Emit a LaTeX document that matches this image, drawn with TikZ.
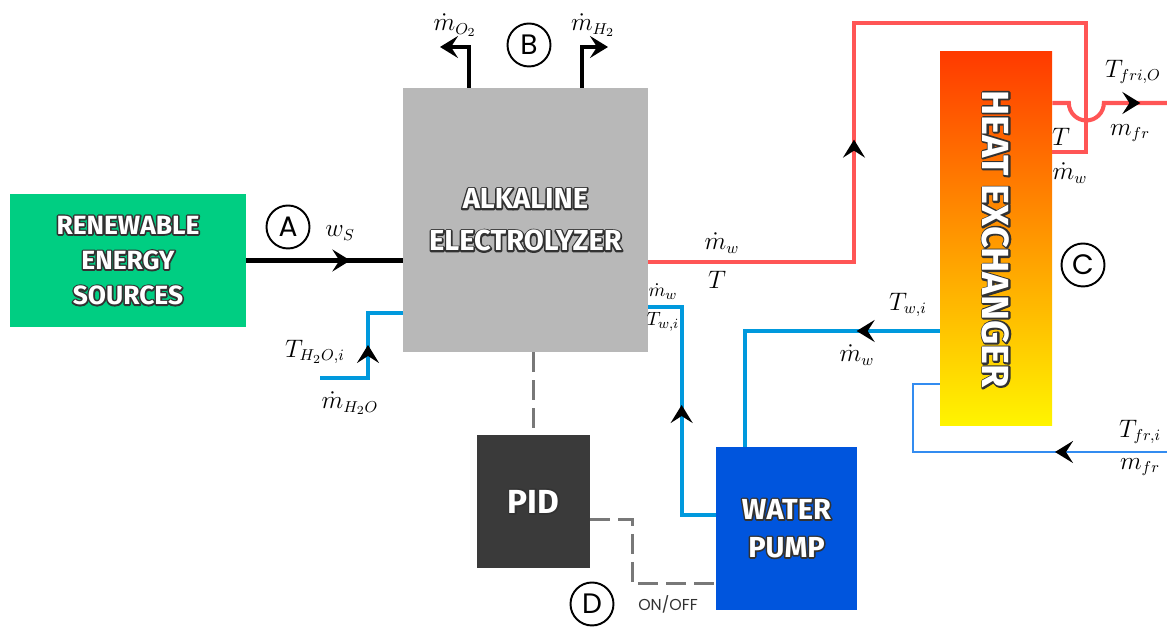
\documentclass[tikz,border=0pt]{standalone}
\usepackage{fontspec}
\usepackage{graphicx}
\usetikzlibrary{arrows.meta,decorations.markings}

\newfontfamily\boxfont{Fira Sans}
\newfontfamily\circfont{Poppins}

\definecolor{resgreen}{RGB}{0,206,130}
\definecolor{aelgray}{RGB}{184,184,184}
\definecolor{pidgray}{RGB}{58,58,58}
\definecolor{pumpblue}{RGB}{0,85,221}
\definecolor{hexred}{RGB}{255,58,0}
\definecolor{hexyellow}{RGB}{255,245,0}
\definecolor{hotred}{RGB}{255,85,85}
\definecolor{waterblue}{RGB}{0,153,221}
\definecolor{coolblue}{RGB}{51,140,240}
\definecolor{signalgray}{RGB}{120,120,120}
\definecolor{boxedge}{RGB}{50,50,50}

% white lettering with a dark stroked copy underneath
\newcommand{\boxtext}[1]{\leavevmode\rlap{\textcolor{boxedge}{%
    \special{pdf:literal direct 1 Tr 1.8 w 1 j}#1\special{pdf:literal direct 0 Tr}}}#1}

\begin{document}
\begin{tikzpicture}[
    mytip/.tip={Stealth[length=3.6mm, width=4.4mm, inset=1.4mm, color=black]},
    mybox/.style={inner sep=0pt, text=white, align=center},
    power/.style={line width=2.3pt, black},
    hot/.style={line width=2.3pt, hotred},
    water/.style={line width=2.3pt, waterblue},
    coolant/.style={line width=1.6pt, coolblue},
    signal/.style={line width=1.7pt, signalgray, dash pattern=on 0.4cm off 0.16cm},
    flowarrow/.style={postaction={decorate, decoration={markings,
        mark=at position #1 with {\arrow{mytip}}}}},
    mylabel/.style={inner sep=1pt, font=\fontsize{13.5}{16}\selectfont},
    smalllabel/.style={inner sep=1pt, font=\fontsize{11}{13}\selectfont},
    letter/.style={circle, draw, line width=1.1pt, minimum size=0.86cm, inner sep=0pt,
        font=\circfont\fontsize{16}{16}\selectfont}
]
    \useasboundingbox (0,0) rectangle (23.34,12.62);

    % Blocks
    \node[mybox, fill=resgreen, minimum width=4.72cm, minimum height=2.66cm,
        font=\boxfont\bfseries\fontsize{15}{20}\selectfont] (res) at (2.56,7.41)
        {\boxtext{RENEWABLE}\\\boxtext{ENERGY}\\\boxtext{SOURCES}};
    \node[mybox, fill=aelgray, minimum width=4.9cm, minimum height=5.28cm,
        font=\boxfont\bfseries\fontsize{16.5}{24}\selectfont] (ael) at (10.51,8.22)
        {\boxtext{ALKALINE}\\\boxtext{ELECTROLYZER}};
    \node[mybox, top color=hexred, bottom color=hexyellow, minimum width=2.24cm, minimum height=7.48cm,
        font=\boxfont\bfseries\fontsize{21.5}{21.5}\selectfont] (hex) at (19.92,7.84)
        {\rotatebox{-90}{\boxtext{HEAT EXCHANGER}}};
    \node[mybox, fill=pidgray, minimum width=2.26cm, minimum height=2.66cm,
        font=\boxfont\bfseries\fontsize{19}{19}\selectfont] (pid) at (10.67,2.59)
        {\boxtext{PID}};
    \node[mybox, fill=pumpblue, minimum width=2.82cm, minimum height=3.26cm,
        font=\boxfont\bfseries\fontsize{16.5}{21.5}\selectfont] (pump) at (15.73,2.05)
        {\boxtext{WATER}\\\boxtext{PUMP}};

    % Power
    \draw[power, flowarrow=2.08cm] (res.east) -- (res.east -| ael.west);

    % Gas outlets
    \coordinate (o2) at (8.80,11.68);
    \coordinate (h2) at (12.16,11.68);
    \draw[power, -mytip] ([xshift=-1.13cm]ael.north) |- (o2);
    \draw[power, -mytip] ([xshift=1.13cm]ael.north) |- (h2);

    % Hot water loop
    \coordinate (rtop) at (17.08,12.16);
    \coordinate (rret) at (21.72,9.58);
    \draw[hot, flowarrow=6.56cm] ([yshift=-0.84cm]ael.east) -| (rtop) -| (rret) -- (rret -| hex.east);

    % Coolant outlet
    \coordinate (frout) at (23.34,10.56);
    \draw[hot, flowarrow=2.16cm] ([yshift=2.72cm]hex.east) -- ++(0.33,0)
        arc[start angle=180, end angle=360, radius=0.35] -- (frout);

    % Cooled water back to the electrolyzer
    \draw[water, flowarrow=1.66cm] ([yshift=-1.84cm]hex.west) -| ([xshift=-0.83cm]pump.north);
    \draw[water, flowarrow=2.88cm] ([yshift=0.27cm]pump.west) -- ++(-0.68,0) |- ([yshift=-1.74cm]ael.east);

    % Make-up water
    \coordinate (h2oin) at (6.40,5.06);
    \draw[water, flowarrow=1.62cm] (h2oin) -- ++(0.96,0) |- ([yshift=-1.86cm]ael.west);

    % Coolant inlet
    \coordinate (frin) at (23.34,3.58);
    \draw[coolant, flowarrow=2.24cm] (frin) -- ++(-5.08,0) |- ([yshift=-2.90cm]hex.west);

    % Control signals
    \draw[signal] (pid.north |- ael.south) -- (pid.north);
    \draw[signal] ([yshift=-0.37cm]pid.east) -- ++(0.84,0) |- ([yshift=-1.11cm]pump.west);

    % Labels
    \node[mylabel] (lws) at (6.80,7.96) {$w_S$};
    \node[mylabel] (lmo) at (9.10,12.12) {$\dot{m}_{O_2}$};
    \node[mylabel] (lmh) at (11.86,12.12) {$\dot{m}_{H_2}$};
    \node[mylabel] (lmwr) at (14.44,7.76) {$\dot{m}_w$};
    \node[mylabel] (ltr) at (14.34,7.02) {$T$};
    \node[mylabel] (ltfo) at (22.66,11.18) {$T_{fri,O}$};
    \node[mylabel] (lmfo) at (22.60,9.96) {$m_{fr}$};
    \node[mylabel] (lth) at (21.22,9.88) {$T$};
    \node[mylabel] (lmwh) at (21.40,9.16) {$\dot{m}_w$};
    \node[mylabel] (ltwh) at (18.16,6.52) {$T_{w,i}$};
    \node[mylabel] (lmwb) at (17.14,5.52) {$\dot{m}_w$};
    \node[smalllabel] (lmwa) at (13.26,6.78) {$\dot{m}_w$};
    \node[smalllabel] (ltwa) at (13.26,6.18) {$T_{w,i}$};
    \node[mylabel] (lth2o) at (6.30,5.58) {$T_{H_2O,i}$};
    \node[mylabel] (lmh2o) at (7.00,4.56) {$\dot{m}_{H_2O}$};
    \node[mylabel] (ltfi) at (22.80,3.98) {$T_{fr,i}$};
    \node[mylabel] (lmfi) at (22.80,3.28) {$m_{fr}$};
    \node[font=\circfont\fontsize{9}{9}\selectfont, text=boxedge] (lonoff) at (13.36,0.54) {ON/OFF};

    % Stages
    \node[letter] (sa) at (5.76,8.08) {A};
    \node[letter] (sb) at (10.58,11.72) {B};
    \node[letter] (sc) at (21.66,7.32) {C};
    \node[letter] (sd) at (11.84,0.54) {D};
\end{tikzpicture}
\end{document}
